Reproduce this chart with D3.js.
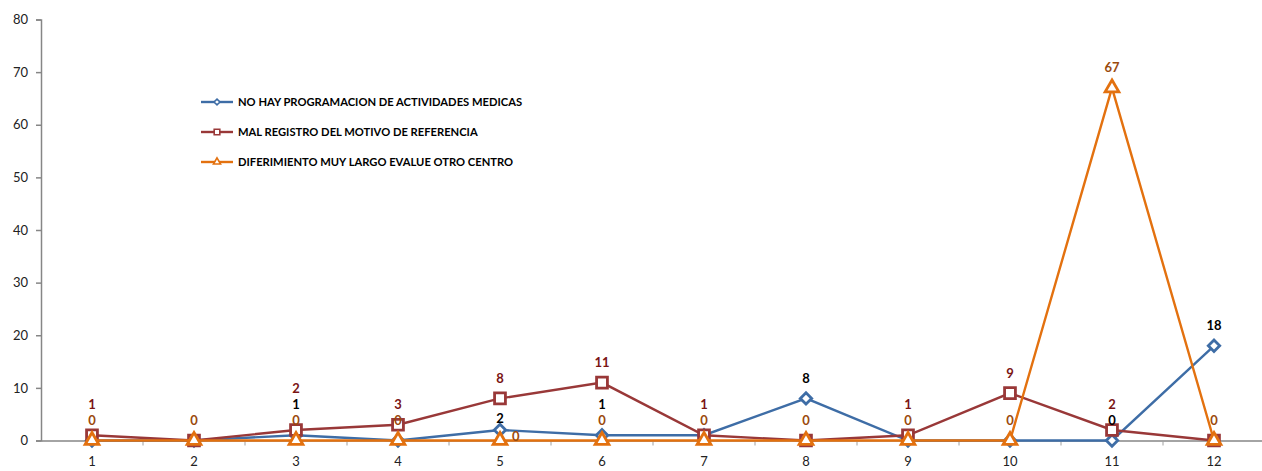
<!DOCTYPE html>
<html>
<head>
<meta charset="utf-8">
<script src="https://cdn.jsdelivr.net/npm/d3@7"></script>
<style>
  body { margin: 0; background: #fff; }
  svg text { font-family: Lato, "Open Sans", sans-serif; }
</style>
</head>
<body>
<div id="chart"></div>
<script>
// data
var categories = ["1","2","3","4","5","6","7","8","9","10","11","12"];
var seriesNames = [
  "NO HAY PROGRAMACION DE ACTIVIDADES MEDICAS",
  "MAL REGISTRO DEL MOTIVO DE REFERENCIA",
  "DIFERIMIENTO MUY LARGO EVALUE OTRO CENTRO"
];
var noHayValues       = [0, 0, 1, 0, 2, 1, 1, 8, 0, 0, 0, 18];
var malRegistroValues = [1, 0, 2, 3, 8, 11, 1, 0, 1, 9, 2, 0];
var diferimientoValues = [0, 0, 0, 0, 0, 0, 0, 0, 0, 0, 67, 0];
var yTicks = [0, 10, 20, 30, 40, 50, 60, 70, 80];

var W = 1262, H = 471;
var svg = d3.select("#chart").append("svg")
    .attr("width", W)
    .attr("height", H);

var x = d3.scaleBand().domain(categories).range([41, 1265]);
var y = d3.scaleLinear().domain([0, 80]).range([440.5, 19.5]);

var series = [
  {name: seriesNames[0], values: noHayValues, color: "#3E6DA6", labelColor: "#000", marker: "diamond"},
  {name: seriesNames[1], values: malRegistroValues, color: "#993838", labelColor: "#7A1414", marker: "square"},
  {name: seriesNames[2], values: diferimientoValues, color: "#E3710F", labelColor: "#9A4A0C", marker: "triangle"}
];

// y axis
var yAxis = svg.append("g")
    .attr("transform", "translate(41,0)")
    .call(d3.axisLeft(y).tickValues(yTicks).tickSize(5).tickPadding(8));
yAxis.select(".domain").attr("stroke", "#868686").attr("stroke-width", 1.5);
yAxis.selectAll(".tick line").attr("stroke", "#868686").attr("stroke-width", 1.5);
yAxis.selectAll(".tick text").attr("fill", "#222").style("font-size", "13px");

// x axis: baseline, tick marks at band boundaries, labels at centers
var xAxis = svg.append("g")
    .attr("transform", "translate(0," + y(0) + ")")
    .call(d3.axisBottom(x).tickSize(0).tickPadding(16));
xAxis.select(".domain").attr("stroke", "#868686").attr("stroke-width", 1.5);
xAxis.selectAll(".tick text").attr("fill", "#222").style("font-size", "13px");
xAxis.selectAll(".bound")
    .data(categories.slice(1).concat(["end"]))
    .enter().append("line")
    .attr("x1", function(d, i) { return x.range()[0] + (i + 1) * x.bandwidth(); })
    .attr("x2", function(d, i) { return x.range()[0] + (i + 1) * x.bandwidth(); })
    .attr("y1", 0).attr("y2", 5)
    .attr("stroke", "#a0a0a0").attr("stroke-width", 1);

function cx(i) { return x(categories[i]) + x.bandwidth() / 2; }

var line = d3.line()
    .x(function(d, i) { return cx(i); })
    .y(function(d) { return y(d); });

function markerPath(type, s) {
  if (type === "diamond") return d3.symbol().type(d3.symbolDiamond2).size(s * 0.55)();
  if (type === "square") return d3.symbol().type(d3.symbolSquare2).size(s)();
  return d3.symbol().type(d3.symbolTriangle2).size(s * 0.9)();
}

series.forEach(function(s) {
  svg.append("path")
    .datum(s.values)
    .attr("fill", "none")
    .attr("stroke", s.color)
    .attr("stroke-width", 2.4)
    .attr("d", line);

  svg.selectAll(".m-" + s.marker)
    .data(s.values)
    .enter().append("path")
    .attr("class", "m-" + s.marker)
    .attr("transform", function(d, i) { return "translate(" + cx(i) + "," + y(d) + ")"; })
    .attr("d", markerPath(s.marker, 150))
    .attr("fill", "#fff")
    .attr("stroke", s.color)
    .attr("stroke-width", 2.8);
});

// data labels: stack upward where they collide, merge identical values,
// and if stacking would land on another marker, nudge the lower label sideways
var labels = [];
categories.forEach(function(c, i) {
  var items = series.map(function(s, k) {
    return {k: k, v: s.values[i], want: y(s.values[i]) - 20, color: s.labelColor, dx: 0};
  });
  var markerYs = series.map(function(s) { return y(s.values[i]); });
  items.sort(function(a, b) { return (b.want - a.want) || (b.k - a.k); });
  var placed = [];
  items.forEach(function(it) {
    var dup = placed.some(function(p) { return p.v === it.v && Math.abs(p.want - it.want) < 8; });
    if (dup) return;
    var yy = it.want, blocker = null;
    placed.forEach(function(p) { if (yy > p.y - 16) { yy = p.y - 16; blocker = p; } });
    var hitsMarker = markerYs.some(function(my, k) { return k !== it.k && Math.abs(my - yy) < 10; });
    if (blocker && hitsMarker) {
      blocker.dx = 12;
      blocker.y = y(blocker.v) - 4;
      yy = y(it.v) - 12;
    }
    it.y = yy;
    placed.push(it);
  });
  placed.forEach(function(p) {
    labels.push({x: cx(i) + p.dx, y: p.y, v: p.v, color: p.color, anchor: p.dx ? "start" : "middle"});
  });
});

svg.selectAll(".dlabel")
  .data(labels)
  .enter().append("text")
  .attr("class", "dlabel")
  .attr("x", function(d) { return d.x; })
  .attr("y", function(d) { return d.y; })
  .attr("text-anchor", function(d) { return d.anchor; })
  .attr("dy", "0.35em")
  .attr("fill", function(d) { return d.color; })
  .style("font-size", "13px")
  .style("font-weight", "bold")
  .text(function(d) { return d.v; });

// legend
var legend = svg.append("g").attr("transform", "translate(201,102)");
series.forEach(function(s, k) {
  var g = legend.append("g").attr("transform", "translate(0," + (k * 30) + ")");
  g.append("line")
    .attr("x1", 0).attr("x2", 32).attr("y1", 0).attr("y2", 0)
    .attr("stroke", s.color).attr("stroke-width", 2.4);
  g.append("path")
    .attr("transform", "translate(16,0)")
    .attr("d", markerPath(s.marker, 40))
    .attr("fill", "#fff")
    .attr("stroke", s.color)
    .attr("stroke-width", 1.6);
  g.append("text")
    .attr("x", 37).attr("y", 0).attr("dy", "0.35em")
    .attr("fill", "#000")
    .style("font-size", "11.2px")
    .style("font-weight", "bold")
    .text(s.name);
});
</script>
</body>
</html>
